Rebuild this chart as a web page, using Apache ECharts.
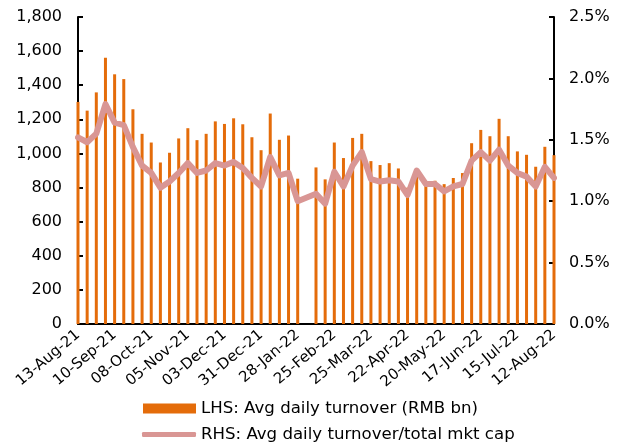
<!DOCTYPE html>
<html>
<head>
<meta charset="utf-8">
<script src="https://cdn.jsdelivr.net/npm/echarts@6/dist/echarts.min.js"></script>
<style>
html,body{margin:0;padding:0;background:#fff;}
#chart{width:631px;height:447px;}
</style>
</head>
<body>
<div id="chart"></div>
<script>
const categories = [
  '13-Aug-21','20-Aug-21','27-Aug-21','03-Sep-21','10-Sep-21','17-Sep-21','24-Sep-21','01-Oct-21',
  '08-Oct-21','15-Oct-21','22-Oct-21','29-Oct-21','05-Nov-21','12-Nov-21','19-Nov-21','26-Nov-21',
  '03-Dec-21','10-Dec-21','17-Dec-21','24-Dec-21','31-Dec-21','07-Jan-22','14-Jan-22','21-Jan-22',
  '28-Jan-22','04-Feb-22','11-Feb-22','18-Feb-22','25-Feb-22','04-Mar-22','11-Mar-22','18-Mar-22',
  '25-Mar-22','01-Apr-22','08-Apr-22','15-Apr-22','22-Apr-22','29-Apr-22','06-May-22','13-May-22',
  '20-May-22','27-May-22','03-Jun-22','10-Jun-22','17-Jun-22','24-Jun-22','01-Jul-22','08-Jul-22',
  '15-Jul-22','22-Jul-22','29-Jul-22','05-Aug-22','12-Aug-22'
];
// LHS: Avg daily turnover (RMB bn)
const turnover = [
  1302,1251,1358,1561,1464,1436,1259,1115,
  1064,947,1004,1088,1148,1078,1115,1188,
  1173,1206,1171,1095,1019,1234,1080,1105,
  852,null,918,848,1064,973,1091,1115,
  955,932,943,912,799,898,834,840,
  820,856,885,1060,1138,1101,1203,1101,
  1012,992,922,1039,990
];
// RHS: Avg daily turnover / total mkt cap (%)
const turnoverRatio = [
  1.52,1.48,1.55,1.79,1.64,1.62,1.44,1.29,
  1.23,1.11,1.16,1.23,1.31,1.23,1.25,1.31,
  1.29,1.32,1.27,1.19,1.12,1.36,1.21,1.23,
  1.00,null,1.06,0.98,1.24,1.12,1.29,1.40,
  1.18,1.16,1.17,1.16,1.05,1.25,1.14,1.14,
  1.08,1.12,1.14,1.33,1.40,1.33,1.42,1.29,
  1.23,1.20,1.12,1.28,1.19
];
const leftTicks = {min: 0, max: 1800, interval: 200};
const rightTicks = {min: 0, max: 2.5, interval: 0.5};
const seriesNames = ['LHS: Avg daily turnover (RMB bn)', 'RHS: Avg daily turnover/total mkt cap'];

const FONT = 'DejaVu Sans';
const chart = echarts.init(document.getElementById('chart'), null, {renderer: 'canvas'});
chart.setOption({
  animation: false,
  backgroundColor: '#fff',
  textStyle: {fontFamily: FONT, color: '#000'},
  grid: {left: 78, right: 77, top: 17, bottom: 123, containLabel: false},
  legend: [
    {
      orient: 'vertical', left: 143, top: 400, padding: 0,
      itemWidth: 53, itemHeight: 10,
      textStyle: {fontFamily: FONT, fontSize: 16.6, color: '#000'},
      data: [{name: seriesNames[0], icon: 'rect'}]
    },
    {
      orient: 'vertical', left: 142, top: 426, padding: 0,
      itemWidth: 54, itemHeight: 5,
      textStyle: {fontFamily: FONT, fontSize: 16.6, color: '#000'},
      data: [{name: seriesNames[1], icon: 'roundRect'}]
    }
  ],
  xAxis: {
    type: 'category',
    data: categories,
    boundaryGap: false,
    axisLine: {show: true, lineStyle: {color: '#000', width: 2}},
    axisTick: {show: true, inside: true, length: 4, interval: 3, lineStyle: {color: '#000', width: 2}},
    axisLabel: {interval: 3, rotate: 40, margin: 9, fontFamily: FONT, fontSize: 15, color: '#000'},
    splitLine: {show: false}
  },
  yAxis: [
    {
      type: 'value', position: 'left',
      min: leftTicks.min, max: leftTicks.max, interval: leftTicks.interval,
      axisLine: {show: true, lineStyle: {color: '#000', width: 2}},
      axisTick: {show: true, inside: true, length: 5, lineStyle: {color: '#000', width: 2}},
      axisLabel: {margin: 16, fontFamily: FONT, fontSize: 16, color: '#000',
        formatter: v => v.toLocaleString('en-US')},
      splitLine: {show: false}
    },
    {
      type: 'value', position: 'right',
      min: rightTicks.min, max: rightTicks.max, interval: rightTicks.interval,
      axisLine: {show: true, lineStyle: {color: '#000', width: 2}},
      axisTick: {show: true, inside: true, length: 5, lineStyle: {color: '#000', width: 2}},
      axisLabel: {margin: 15, fontFamily: FONT, fontSize: 16, color: '#000',
        formatter: v => v.toFixed(1) + '%'},
      splitLine: {show: false}
    }
  ],
  series: [
    {
      name: seriesNames[0], type: 'bar', yAxisIndex: 0,
      data: turnover, barWidth: 3,
      itemStyle: {color: '#E46C0A'}, z: 2
    },
    {
      name: seriesNames[1], type: 'line', yAxisIndex: 1,
      data: turnoverRatio, connectNulls: true,
      showSymbol: false, symbol: 'none',
      lineStyle: {color: '#D99694', width: 6, join: 'round', cap: 'round'},
      itemStyle: {color: '#D99694'}, z: 3
    }
  ]
});
</script>
</body>
</html>
